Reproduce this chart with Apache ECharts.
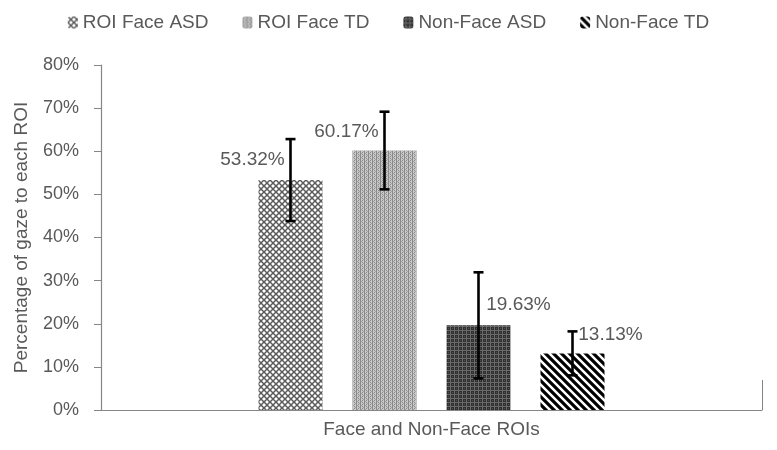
<!DOCTYPE html>
<html>
<head>
<meta charset="utf-8">
<script src="https://cdn.jsdelivr.net/npm/echarts@6/dist/echarts.min.js"></script>
<style>
html,body{margin:0;padding:0;background:#fff;}
#chart{width:777px;height:450px;}
</style>
</head>
<body>
<div id="chart"></div>
<script>
// ---- data ----
var categories = ['Face and Non-Face ROIs'];
var seriesNames = ['ROI Face ASD', 'ROI Face TD', 'Non-Face ASD', 'Non-Face TD'];
var meanValues = [53.32, 60.17, 19.63, 13.13];
var errorValues = [9.5, 9.0, 12.3, 5.1];
var yTicks = [0, 10, 20, 30, 40, 50, 60, 70, 80];

// ---- styles ----
var FONT = 'Liberation Sans';
var TEXT_COLOR = '#595959';
var AXIS_COLOR = '#868686';
var BAR_WIDTH = 64;
var BAR_GAP = '46.875%';
var labelOffsets = [[-38, -6], [-38, -4], [40, -6], [38, -4]];

function makePattern(size, draw) {
  var c = document.createElement('canvas');
  c.width = size; c.height = size;
  var ctx = c.getContext('2d');
  draw(ctx, size);
  return { image: c, repeat: 'repeat' };
}

var patterns = [
  // cross-hatch diamonds
  makePattern(6, function (ctx, s) {
    ctx.fillStyle = '#ffffff'; ctx.fillRect(0, 0, s, s);
    ctx.strokeStyle = '#5a5a5a'; ctx.lineWidth = 1.5;
    ctx.beginPath();
    ctx.moveTo(0, 0); ctx.lineTo(s, s);
    ctx.moveTo(0, s); ctx.lineTo(s, 0);
    ctx.stroke();
  }),
  // fine light-gray weave
  makePattern(4, function (ctx, s) {
    ctx.fillStyle = '#c8c8c8'; ctx.fillRect(0, 0, s, s);
    ctx.fillStyle = '#8a8a8a';
    ctx.fillRect(0, 0, 1, s);
    ctx.fillRect(2, 0, 1, 1);
    ctx.fillRect(2, 2, 1, 1);
    ctx.fillStyle = '#a4a4a4';
    ctx.fillRect(1, 1, 1, 1);
    ctx.fillRect(3, 3, 1, 1);
  }),
  // dark weave
  makePattern(4, function (ctx, s) {
    ctx.fillStyle = '#2f2f2f'; ctx.fillRect(0, 0, s, s);
    ctx.fillStyle = '#6b6b6b';
    ctx.fillRect(0, 2, s, 1);
    ctx.fillRect(2, 0, 1, s);
    ctx.fillStyle = '#505050';
    ctx.fillRect(0, 0, 1, 1);
  }),
  // wide downward diagonal stripes
  makePattern(8, function (ctx, s) {
    ctx.fillStyle = '#ffffff'; ctx.fillRect(0, 0, s, s);
    ctx.strokeStyle = '#000000'; ctx.lineWidth = 3.2;
    ctx.beginPath();
    ctx.moveTo(-2, -2); ctx.lineTo(s + 2, s + 2);
    ctx.moveTo(-2, s - 2); ctx.lineTo(2, s + 2);
    ctx.moveTo(s - 2, -2); ctx.lineTo(s + 2, 2);
    ctx.stroke();
  })
];

var chart = echarts.init(document.getElementById('chart'), null, { renderer: 'canvas' });

var series = seriesNames.map(function (name, i) {
  return {
    name: name,
    type: 'bar',
    barWidth: BAR_WIDTH,
    barGap: BAR_GAP,
    itemStyle: { color: patterns[i] },
    label: {
      show: true,
      position: 'top',
      offset: labelOffsets[i],
      formatter: function (p) { return p.value.toFixed(2) + '%'; },
      fontFamily: FONT,
      fontSize: 19,
      color: TEXT_COLOR
    },
    data: [meanValues[i]],
    z: 2
  };
});

var errData = meanValues.map(function (m, i) { return [0, m, errorValues[i], i]; });

series.push({
  name: 'error',
  type: 'custom',
  z: 5,
  clip: false,
  silent: true,
  encode: { x: 0, y: 1 },
  data: errData,
  renderItem: function (params, api) {
    var idx = api.value(3);
    var n = seriesNames.length;
    var offsetCenter;
    var layout = api.barLayout ? api.barLayout({ count: n, barWidth: BAR_WIDTH, barGap: BAR_GAP }) : null;
    if (layout && layout[idx]) {
      offsetCenter = layout[idx].offsetCenter;
    } else {
      offsetCenter = (idx - (n - 1) / 2) * BAR_WIDTH * (1 + parseFloat(BAR_GAP) / 100);
    }
    var m = api.value(1), e = api.value(2);
    var hi = api.coord([api.value(0), m + e]);
    var lo = api.coord([api.value(0), m - e]);
    var x = hi[0] + offsetCenter;
    var cap = 5;
    var st = { stroke: '#000000', lineWidth: 2.6 };
    return {
      type: 'group',
      children: [
        { type: 'line', shape: { x1: x, y1: hi[1], x2: x, y2: lo[1] }, style: st },
        { type: 'line', shape: { x1: x - cap, y1: hi[1], x2: x + cap, y2: hi[1] }, style: st },
        { type: 'line', shape: { x1: x - cap, y1: lo[1], x2: x + cap, y2: lo[1] }, style: st }
      ]
    };
  }
});

chart.setOption({
  animation: false,
  backgroundColor: '#ffffff',
  legend: {
    data: seriesNames,
    top: 8,
    left: 'center',
    itemWidth: 10,
    itemHeight: 12,
    itemGap: 34,
    textStyle: { fontFamily: FONT, fontSize: 19, color: TEXT_COLOR }
  },
  grid: { left: 101, right: 15, top: 65, bottom: 40, containLabel: false },
  xAxis: {
    type: 'category',
    data: categories,
    axisLine: { lineStyle: { color: AXIS_COLOR, width: 1.2 } },
    axisTick: { show: true, inside: true, length: 30, lineStyle: { color: AXIS_COLOR } },
    axisLabel: { fontFamily: FONT, fontSize: 19, color: TEXT_COLOR, margin: 10 },
    splitLine: { show: false }
  },
  yAxis: {
    type: 'value',
    min: yTicks[0],
    max: yTicks[yTicks.length - 1],
    interval: yTicks[1] - yTicks[0],
    name: 'Percentage of gaze to each ROI',
    nameLocation: 'middle',
    nameGap: 70,
    nameTextStyle: { fontFamily: FONT, fontSize: 19, color: TEXT_COLOR },
    axisLine: { show: true, lineStyle: { color: AXIS_COLOR, width: 1.2 } },
    axisTick: { show: true, length: 7, lineStyle: { color: AXIS_COLOR } },
    axisLabel: { fontFamily: FONT, fontSize: 18, color: TEXT_COLOR, margin: 22, formatter: '{value}%' },
    splitLine: { show: false }
  },
  series: series
});
</script>
</body>
</html>
